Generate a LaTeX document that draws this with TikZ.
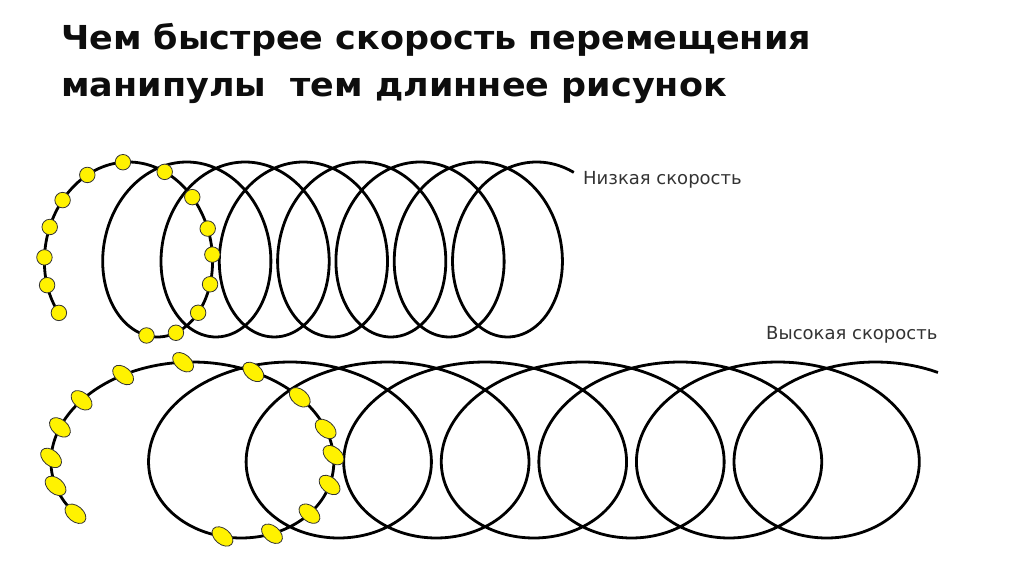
\documentclass[tikz,border=0pt]{standalone}
\usepackage{fontspec}
\setmainfont{DejaVu Sans}
\newfontfamily\headfont[FakeStretch=1.06]{DejaVu Sans}
\usetikzlibrary{shapes.geometric}

\newcommand{\coil}[5]{
    \draw[coilline] plot[domain=-0.82:46.05, samples=700, smooth]
        ({#1+#2*\x-#3*cos(\x r)}, {#4+#5*sin(\x r)});
}
\newcommand{\dotparams}{-0.81,-0.42,-0.09,0.26,0.60,1.02,1.5,2.05,2.5,2.9,3.2,3.55,3.95,4.4,4.9}
\tikzset{x=1pt, y=1pt,
    coilline/.style={line width=2.8pt, black},
    slowdot/.style={circle, draw=black!80, line width=0.8pt, fill=yellow, minimum size=15.5pt, inner sep=0pt},
    fastdot/.style={ellipse, draw=black!80, line width=0.8pt, fill=yellow, minimum width=24pt, minimum height=15.5pt, inner sep=0pt, rotate=-40},
    speed/.style={font=\fontsize{18}{20}\selectfont, text=black!80, inner sep=0pt, anchor=base west},
    heading/.style={font=\headfont\fontsize{33}{36}\selectfont\bfseries, text=black!95, inner sep=0pt, anchor=base west}}

\begin{document}
\begin{tikzpicture}
                \useasboundingbox (0,0) rectangle (1024,574);
                \node[heading] (title1) at (61,524) {Чем быстрее скорость перемещения};
                \node[heading] (title2) at (61,477) {манипулы\ \ тем длиннее рисунок};
                % slow movement
                \coil{113.9}{9.28}{68.9}{324.5}{87.5}
                \foreach \t [count=\i] in \dotparams
                    \node[slowdot] (slow\i) at ({113.9+9.28*\t-68.9*cos(\t r)}, {324.5+87.5*sin(\t r)}) {};
                \node[speed] (slowlabel) at (583,390) {Низкая скорость};
                % fast movement
                \coil{168}{15.53}{116}{124}{88}
                \foreach \t [count=\i] in \dotparams
                    \node[fastdot] (fast\i) at ({168+15.53*\t-116*cos(\t r)}, {124+88*sin(\t r)}) {};
                \node[speed] (fastlabel) at (766,235) {Высокая скорость};
            \end{tikzpicture}
\end{document}
